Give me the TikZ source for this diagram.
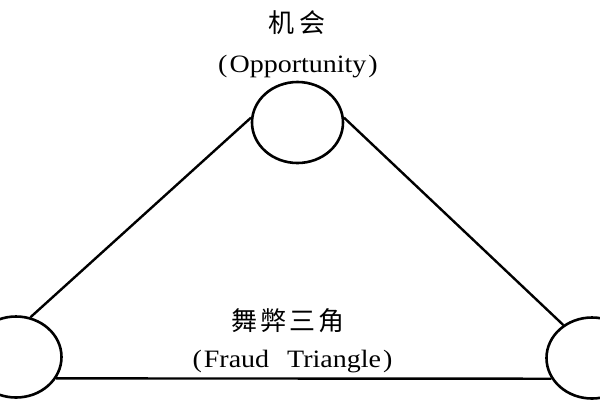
\documentclass[tikz,border=0pt]{standalone}
\usepackage{fontspec}
\setmainfont{Liberation Serif}[FakeStretch=1.12]
\newfontfamily\cjk{Noto Sans CJK SC}
\usetikzlibrary{shapes.geometric}
\tikzset{
  vertex/.style={ellipse, draw, line width=2.6pt, minimum width=91pt, minimum height=81pt, inner sep=0pt},
  edge/.style={line width=2.4pt},
  cjklabel/.style={font=\cjk\fontsize{26}{30}\selectfont, inner sep=0pt},
  latlabel/.style={font=\fontsize{25}{30}\selectfont, inner sep=0pt, anchor=base},
}
\begin{document}
\begin{tikzpicture}[x=1pt,y=-1pt]
\useasboundingbox (0,0) rectangle (600,400);
\fill[white] (0,0) rectangle (600,400);
\node[vertex] (top) at (297.5,122.5) {};
\node[vertex] (left) at (16,357) {};
\node[vertex] (right) at (592,358) {};
\draw[edge] (top.174) -- (left.70);
\draw[edge] (top.6) -- (right.131);
\draw[edge] (left.-28) -- (right.-153);
\node[cjklabel] (t1) at (297,23) {机\hspace{5pt}会};
\node[latlabel] (t2) at (298,72) {(\hspace{2pt}Opportunity\hspace{2pt})};
\node[cjklabel] (t3) at (288,321) {舞\hspace{3pt}弊\hspace{3pt}三\hspace{3pt}角};
\node[latlabel] (t4) at (292.5,367) {(\hspace{2pt}Fraud\hspace{18pt}Triangle\hspace{2pt})};
\end{tikzpicture}
\end{document}
